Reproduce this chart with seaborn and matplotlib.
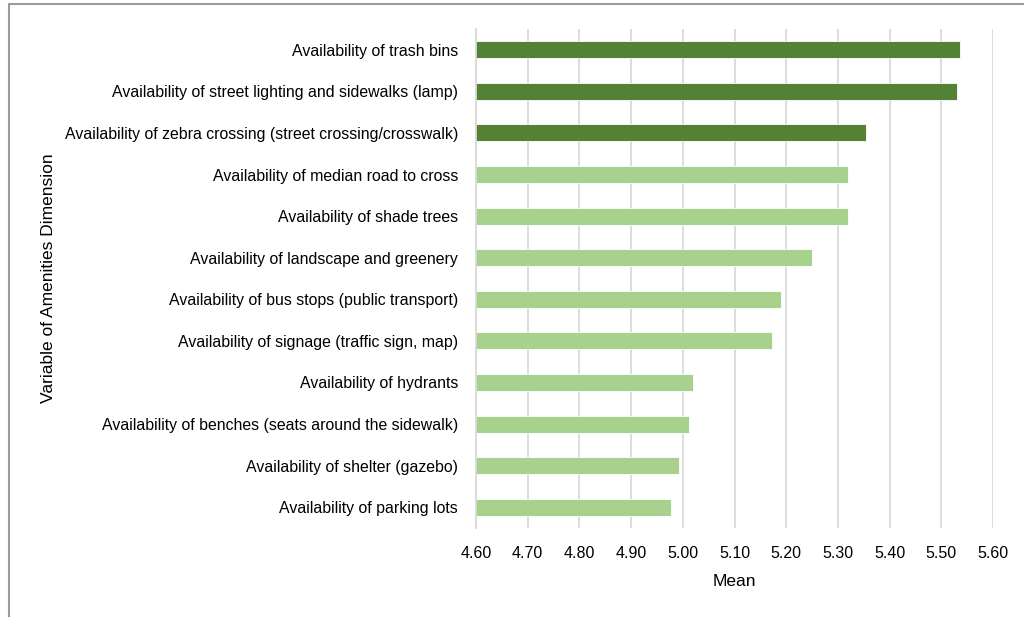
import matplotlib
matplotlib.use("Agg")
import matplotlib.pyplot as plt
import seaborn as sns
import numpy as np
from matplotlib.lines import Line2D

categories = [
    "Availability of trash bins",
    "Availability of street lighting and sidewalks (lamp)",
    "Availability of zebra crossing (street crossing/crosswalk)",
    "Availability of median road to cross",
    "Availability of shade trees",
    "Availability of landscape and greenery",
    "Availability of bus stops (public transport)",
    "Availability of signage (traffic sign, map)",
    "Availability of hydrants",
    "Availability of benches (seats around the sidewalk)",
    "Availability of shelter (gazebo)",
    "Availability of parking lots",
]
means = [5.536, 5.530, 5.354, 5.320, 5.320, 5.250, 5.189, 5.172, 5.020, 5.012, 4.992, 4.977]
groups = ["top", "top", "top"] + ["other"] * 9
xticks = [4.60, 4.70, 4.80, 4.90, 5.00, 5.10, 5.20, 5.30, 5.40, 5.50, 5.60]

sns.set_theme(style="white")
plt.rcParams['font.family'] = ['Liberation Sans', 'DejaVu Sans']

fig = plt.figure(figsize=(10.24, 6.17), dpi=100)
ax = fig.add_axes([476/1024, 1-528/617, (993-476)/1024, (528-29)/617])

palette = {"top": "#548235", "other": "#A9D18E"}
sns.barplot(x=means, y=categories, hue=groups, palette=palette, orient="h",
            width=0.41, legend=False, ax=ax, edgecolor="white", linewidth=0.6,
            dodge=False, saturation=1)

ax.set_xlim(4.6, 5.6)
ax.set_xticks(xticks)
ax.set_xticklabels([f"{t:.2f}" for t in xticks], fontsize=11.5, color="black")
ax.tick_params(axis='y', labelsize=11.4, pad=13, length=0, labelcolor="black")
ax.tick_params(axis='x', pad=13, length=0, labelcolor="black")
ax.xaxis.grid(True, color="#d9d9d9", linewidth=1.3)
ax.set_axisbelow(True)
for s in ["top", "right", "bottom"]:
    ax.spines[s].set_visible(False)
ax.spines["left"].set_color("#d9d9d9")
ax.spines["left"].set_linewidth(1.3)
ax.set_xlabel("Mean", fontsize=12.5, color="black", labelpad=9)
ax.set_ylabel("Variable of Amenities Dimension", fontsize=12.5, color="black")
ax.yaxis.set_label_coords((56-476)/517, 0.5)

# outer frame (partially cropped)
fig.add_artist(Line2D([9/1024, 1], [1-4/617, 1-4/617], transform=fig.transFigure, color="#9a9a9a", linewidth=1.5))
fig.add_artist(Line2D([9/1024, 9/1024], [0, 1-4/617], transform=fig.transFigure, color="#9a9a9a", linewidth=1.5))

fig.savefig("out.png", dpi=100)
